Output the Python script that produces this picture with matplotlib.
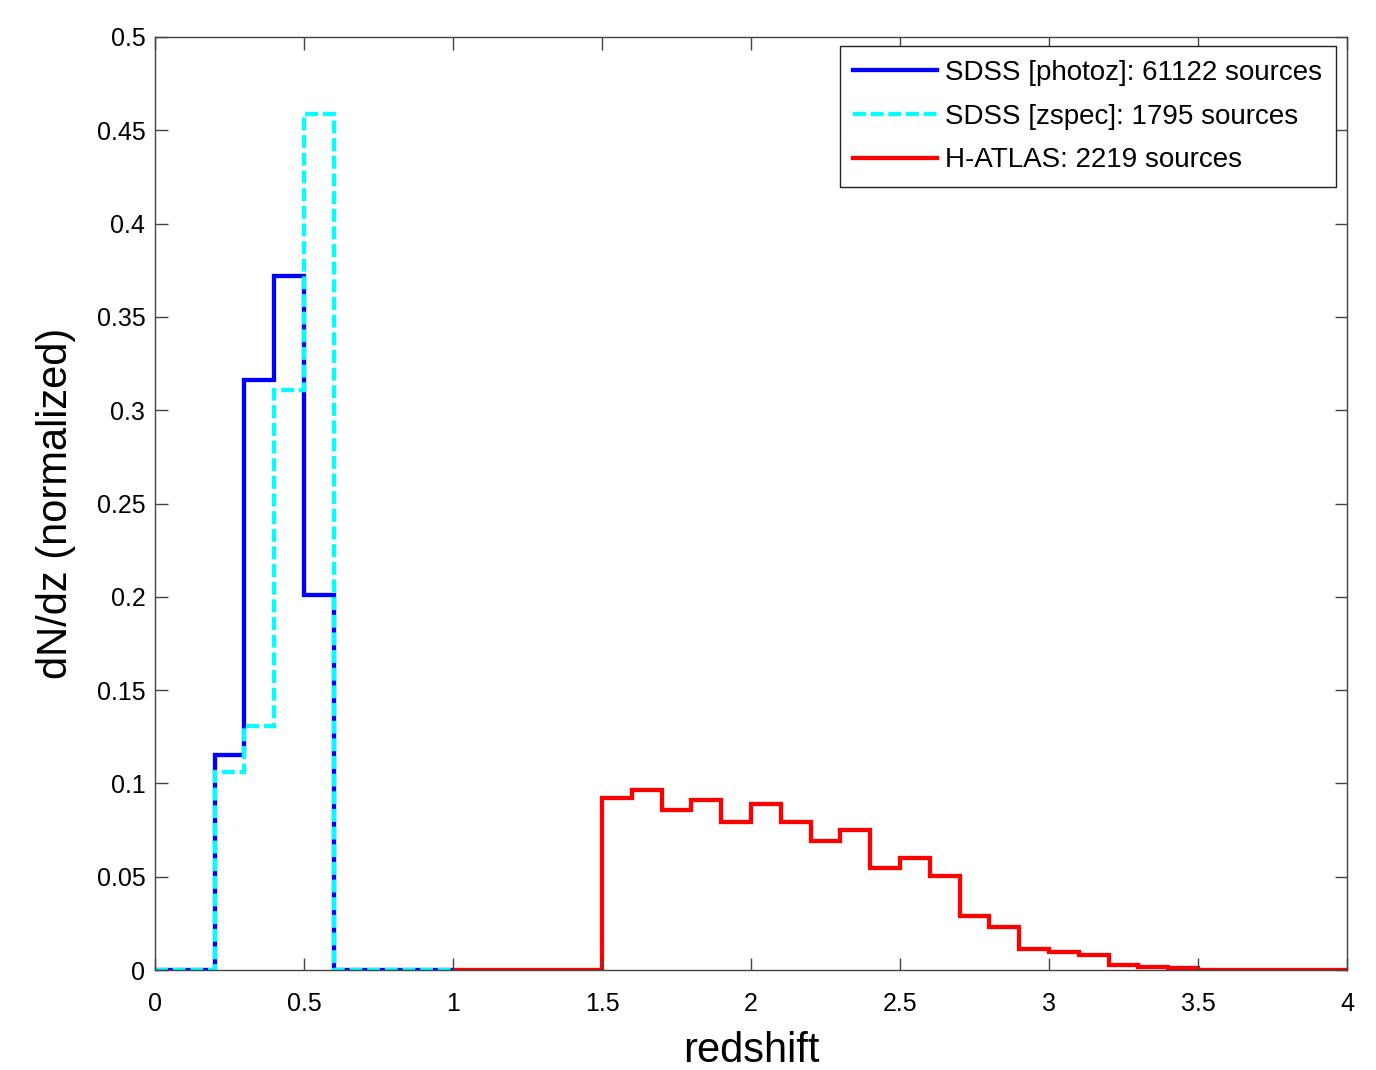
import numpy as np
import matplotlib
matplotlib.use("Agg")
import matplotlib.pyplot as plt
from matplotlib.lines import Line2D

# SDSS bins (0 to 1, width 0.1)
sdss_edges = [0.0, 0.1, 0.2, 0.3, 0.4, 0.5, 0.6, 0.7, 0.8, 0.9, 1.0]
photoz_vals = [0, 0, 0.115, 0.316, 0.372, 0.201, 0, 0, 0, 0]
zspec_vals = [0, 0, 0.106, 0.131, 0.311, 0.459, 0, 0, 0, 0]

# H-ATLAS bins (1 to 4, width 0.1)
hatlas_edges = [round(1.0 + 0.1 * i, 1) for i in range(31)]
hatlas_vals = [0, 0, 0, 0, 0,
               0.092, 0.0965, 0.0857, 0.091, 0.0795,
               0.0888, 0.0795, 0.069, 0.075, 0.0545,
               0.0598, 0.0504, 0.029, 0.023, 0.011,
               0.0096, 0.008, 0.0027, 0.0018, 0.001,
               0, 0, 0, 0, 0]

labels = ["SDSS [photoz]: 61122 sources",
          "SDSS [zspec]: 1795 sources",
          "H-ATLAS: 2219 sources"]

xticks = [0, 0.5, 1, 1.5, 2, 2.5, 3, 3.5, 4]
xticklabels = ["0", "0.5", "1", "1.5", "2", "2.5", "3", "3.5", "4"]
yticks = [0, 0.05, 0.1, 0.15, 0.2, 0.25, 0.3, 0.35, 0.4, 0.45, 0.5]
yticklabels = ["0", "0.05", "0.1", "0.15", "0.2", "0.25", "0.3", "0.35", "0.4", "0.45", "0.5"]

plt.rcParams['font.family'] = ['Liberation Sans', 'DejaVu Sans']

fig = plt.figure(figsize=(13.76, 10.70), dpi=100)
ax = fig.add_axes([155/1376, 1 - 970/1070, (1347-155)/1376, (970-37)/1070])

lw = 3.1
dash = (0, (3.0, 1.1))
ax.stairs(photoz_vals, sdss_edges, color='#0000ff', lw=lw, baseline=None,
          label=labels[0])
ax.stairs(zspec_vals, sdss_edges, color='#00ffff', lw=lw, baseline=None,
          linestyle=dash, label=labels[1])
ax.stairs(hatlas_vals, hatlas_edges, color='#ff0000', lw=lw, baseline=None,
          label=labels[2])

ax.set_xlim(0, 4)
ax.set_ylim(0, 0.5)
ax.set_xticks(xticks)
ax.set_xticklabels(xticklabels)
ax.set_yticks(yticks)
ax.set_yticklabels(yticklabels)
ax.tick_params(direction='in', length=9, width=1, color='#444444',
               top=True, right=True, labelsize=18)
ax.tick_params(axis='x', pad=16)
ax.tick_params(axis='y', pad=7)
for s in ax.spines.values():
    s.set_color('#444444')
    s.set_linewidth(1)

ax.set_xlabel("redshift", fontsize=30, labelpad=11)
ax.set_ylabel("dN/dz (normalized)", fontsize=30, labelpad=15)

handles = [Line2D([], [], color='#0000ff', lw=lw),
           Line2D([], [], color='#00ffff', lw=lw, linestyle=dash),
           Line2D([], [], color='#ff0000', lw=lw)]
leg = ax.legend(handles, labels, loc='upper right', fontsize=20,
                bbox_to_anchor=(1 - 11/1192, 1 - 9/933), fancybox=False, framealpha=1,
                edgecolor='#222222', handlelength=3.0, handletextpad=0.3,
                labelspacing=0.64, borderpad=0.5, borderaxespad=0.0)
leg.get_frame().set_linewidth(1)

fig.savefig("out.png", dpi=100)
